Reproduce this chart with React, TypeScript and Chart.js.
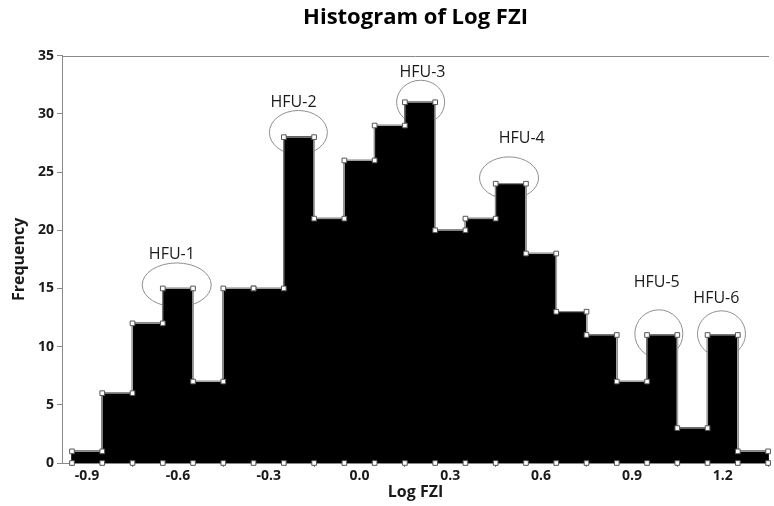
import React, { useEffect, useRef } from "react";
import { Chart, registerables } from "chart.js";

Chart.register(...registerables);

// ---- Data ----
const binCenters = [-0.9, -0.8, -0.7, -0.6, -0.5, -0.4, -0.3, -0.2, -0.1, 0.0, 0.1, 0.2, 0.3, 0.4, 0.5, 0.6, 0.7, 0.8, 0.9, 1.0, 1.1, 1.2, 1.3];
const counts = [1, 6, 12, 15, 7, 15, 15, 28, 21, 26, 29, 31, 20, 21, 24, 18, 13, 11, 7, 11, 3, 11, 1];
const binWidth = 0.1;
const xTickValues = [-0.9, -0.6, -0.3, 0.0, 0.3, 0.6, 0.9, 1.2];
const yMax = 35;
const yStep = 5;

const hfuLabels = ["HFU-1", "HFU-2", "HFU-3", "HFU-4", "HFU-5", "HFU-6"];
const hfuCenterX = [-0.604, -0.202, 0.202, 0.494, 0.989, 1.196];
const hfuCenterY = [15.3, 28.4, 31.0, 24.5, 11.1, 11.1];
const hfuLabelX = [-0.62, -0.218, 0.208, 0.536, 0.982, 1.179];
const hfuLabelY = [17.9, 31.0, 33.6, 27.9, 15.5, 14.1];
const hfuRadiusX = [34.5, 29, 24, 29.5, 24, 24];
const hfuRadiusY = [22, 22, 22, 21, 24, 23];

const FONT = "'Open Sans', 'Noto Sans', sans-serif";

export default function App() {
  const ref = useRef<HTMLCanvasElement | null>(null);

  useEffect(() => {
    document.body.style.margin = "0";
    const canvas = ref.current;
    if (!canvas) return;

    const barData = binCenters.map((c, i) => ({ x: c, y: counts[i] }));
    const topCorners = binCenters.flatMap((c, i) => [
      { x: c - binWidth / 2, y: counts[i] },
      { x: c + binWidth / 2, y: counts[i] },
    ]);
    const edges = [binCenters[0] - binWidth / 2, ...binCenters.map((c) => c + binWidth / 2)];
    const bottomMarkers = edges.map((e) => ({ x: e, y: 0 }));

    const hfuPlugin = {
      id: "hfu",
      beforeDatasetsDraw(chart: any) {
        const { ctx, chartArea, scales } = chart;
        const xs = scales.x;
        const ys = scales.y;
        ctx.save();
        // top frame line
        ctx.strokeStyle = "#8a8a8a";
        ctx.lineWidth = 1;
        ctx.beginPath();
        ctx.moveTo(chartArea.left, Math.round(chartArea.top) + 0.5);
        ctx.lineTo(chartArea.right, Math.round(chartArea.top) + 0.5);
        ctx.stroke();
        // ellipses
        ctx.strokeStyle = "#8f8f8f";
        for (let i = 0; i < hfuLabels.length; i++) {
          const cx = xs.getPixelForValue(hfuCenterX[i]);
          const cy = ys.getPixelForValue(hfuCenterY[i]);
          ctx.beginPath();
          ctx.ellipse(cx, cy, hfuRadiusX[i], hfuRadiusY[i], 0, 0, Math.PI * 2);
          ctx.stroke();
        }
        // labels
        ctx.fillStyle = "#1a1a1a";
        ctx.font = `16px ${FONT}`;
        ctx.textAlign = "center";
        ctx.textBaseline = "middle";
        for (let i = 0; i < hfuLabels.length; i++) {
          ctx.fillText(hfuLabels[i], xs.getPixelForValue(hfuLabelX[i]), ys.getPixelForValue(hfuLabelY[i]));
        }
        ctx.restore();
      },
    };

    const chart = new Chart(canvas, {
      type: "bar",
      data: {
        datasets: [
          {
            type: "line",
            data: bottomMarkers,
            showLine: false,
            pointStyle: "rect",
            pointRadius: 3.3,
            pointBackgroundColor: "#ffffff",
            pointBorderColor: "#555555",
            pointBorderWidth: 1,
            clip: false,
            order: 0,
          } as any,
          {
            type: "line",
            data: topCorners,
            borderColor: "#a8a8a8",
            borderWidth: 1,
            fill: false,
            tension: 0,
            pointStyle: "rect",
            pointRadius: 3.3,
            pointBackgroundColor: "#ffffff",
            pointBorderColor: "#555555",
            pointBorderWidth: 1,
            clip: false,
            order: 1,
          } as any,
          {
            type: "bar",
            data: barData,
            backgroundColor: "#000000",
            borderWidth: 0,
            barPercentage: 1,
            categoryPercentage: 1,
            inflateAmount: 0.8,
            order: 2,
          } as any,
        ],
      },
      options: {
        responsive: false,
        animation: false,
        events: [],
        layout: { padding: 0 },
        plugins: {
          legend: { display: false },
          tooltip: { enabled: false },
          title: {
            display: true,
            text: "Histogram of Log FZI",
            fullSize: false,
            color: "#000",
            font: { family: FONT, size: 22, weight: "bold" },
            padding: { top: 4.8, bottom: 24.5 },
          },
        },
        scales: {
          x: {
            type: "linear",
            min: -0.983,
            max: 1.353,
            offset: false,
            afterBuildTicks: (s: any) => {
              s.ticks = xTickValues.map((v) => ({ value: v }));
            },
            afterFit: (s: any) => {
              s.height = 43;
            },
            ticks: {
              color: "#1a1a1a",
              font: { family: FONT, size: 14, weight: "bold" },
              padding: 1,
              maxRotation: 0,
              autoSkip: false,
              callback: (v: any) => Number(v).toFixed(1),
            },
            grid: {
              display: true,
              drawOnChartArea: false,
              drawTicks: true,
              tickLength: 4,
              color: "#8a8a8a",
            },
            border: { display: true, color: "#8a8a8a" },
            title: {
              display: true,
              text: "Log FZI",
              color: "#1a1a1a",
              font: { family: FONT, size: 16, weight: "bold" },
              padding: { top: 0, bottom: 4 },
            },
          },
          y: {
            type: "linear",
            min: 0,
            max: yMax,
            afterFit: (s: any) => {
              s.width = 62;
            },
            ticks: {
              stepSize: yStep,
              color: "#1a1a1a",
              font: { family: FONT, size: 14, weight: "bold" },
              padding: 3,
            },
            grid: {
              display: true,
              drawOnChartArea: false,
              drawTicks: true,
              tickLength: 5,
              color: "#8a8a8a",
            },
            border: { display: true, color: "#8a8a8a" },
            title: {
              display: true,
              text: "Frequency",
              color: "#1a1a1a",
              font: { family: FONT, size: 16, weight: "bold" },
              padding: { top: 10, bottom: 0 },
            },
          },
        },
      } as any,
      plugins: [hfuPlugin],
    });

    return () => chart.destroy();
  }, []);

  return (
    <div style={{ width: 774, height: 506 }}>
      <canvas ref={ref} width={774} height={506} style={{ display: "block" }} />
    </div>
  );
}
